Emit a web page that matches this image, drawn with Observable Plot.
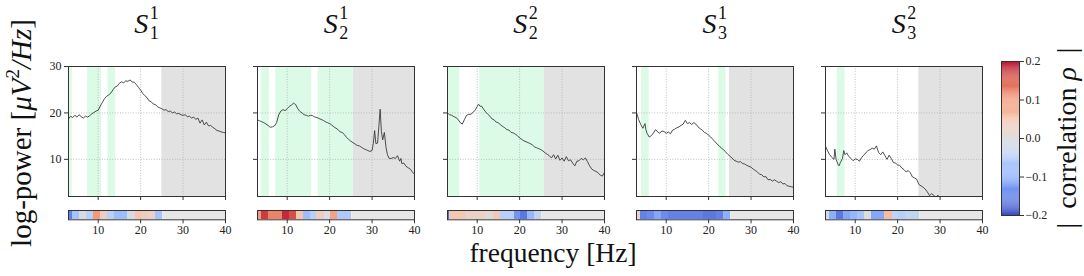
<!DOCTYPE html>
<html><head><meta charset="utf-8">
<script src="https://cdn.jsdelivr.net/npm/d3@7"></script>
<script src="https://cdn.jsdelivr.net/npm/@observablehq/plot@0.6"></script>
<style>
body{margin:0;background:#fff;}
#root{position:relative;width:1084px;height:276px;overflow:hidden;font-family:'Liberation Serif','DejaVu Serif',serif;background:#fff;}
#root svg{position:absolute;background:transparent;overflow:visible;}
#root text{font-family:'Liberation Serif','DejaVu Serif',serif;}
</style></head><body><div id="root"></div>
<script>
// ---------------- DATA ----------------
const titleSub = [1, 2, 2, 3, 3];
const titleSup = [1, 1, 2, 1, 2];

const freq1 = [3,3.5,4,4.5,5,5.5,6,6.5,7,7.5,8,8.5,9,9.5,10,10.5,11,11.5,12,12.5,13,13.5,14,14.5,15,15.5,16,16.5,17,17.5,18,18.5,19,19.5,20,20.5,21,21.5,22,22.5,23,23.5,24,24.5,25,25.5,26,26.5,27,27.5,28,28.5,29,29.5,30,30.5,31,31.5,32,32.5,33,33.5,34,34.5,35,35.5,36,36.5,37,37.5,38,38.5,39,39.5,40];
const power1 = [18.7,19.3,19.0,19.5,19.1,19.6,19.2,18.9,19.3,19.1,19.4,19.8,20.1,20.4,20.6,21.5,22.3,23.1,23.6,23.9,24.3,25.0,25.6,25.8,26.4,26.7,26.5,26.9,26.8,27.1,26.7,26.6,26.1,25.5,24.9,24.2,23.7,23.3,22.6,22.4,21.9,21.8,21.3,21.1,20.9,20.6,20.7,20.3,20.4,20.0,20.2,19.8,19.9,19.6,19.5,19.6,19.2,19.3,18.9,19.1,18.6,18.9,17.8,18.5,17.4,18.0,17.2,17.3,16.9,16.6,16.2,16.1,15.9,15.8,15.7];

const freq2 = [3,3.5,4,4.5,5,5.5,6,6.5,7,7.5,8,8.5,9,9.5,10,10.5,11,11.5,12,12.5,13,13.5,14,14.5,15,15.5,16,16.5,17,17.5,18,18.5,19,19.5,20,20.5,21,21.5,22,22.5,23,23.5,24,24.5,25,25.5,26,26.5,27,27.5,28,28.5,29,29.5,30,30.3,30.6,30.9,31.3,31.6,31.9,32.2,32.5,32.9,33.3,33.6,34,34.5,35,35.5,36,36.5,36.8,37,37.5,38,38.5,39,39.5,40];
const power2 = [18.5,18.3,18.1,17.9,17.6,17.3,16.9,17.0,17.2,17.9,19.6,20.4,20.7,20.5,20.9,21.4,21.7,22.1,21.8,20.9,20.3,20.0,19.6,19.5,19.3,19.5,19.4,19.1,19.0,18.8,18.6,18.4,18.1,17.9,17.7,17.4,17.0,16.7,16.4,15.9,15.8,15.3,14.7,14.3,13.9,13.6,13.3,13.0,12.9,12.6,12.3,12.1,11.9,11.7,11.9,13.5,16.2,13.4,13.5,17.0,20.8,16.0,14.2,15.8,12.5,11.1,10.2,10.2,10.4,10.2,10.8,9.6,10.2,9.1,9.2,8.5,8.2,7.9,7.3,6.8];

const freq3 = [3,3.5,4,4.5,5,5.5,6,6.5,7,7.5,8,8.5,9,9.5,10,10.3,10.7,11,11.5,12,12.5,13,13.5,14,14.5,15,15.5,16,16.5,17,17.5,18,18.5,19,19.5,20,20.5,21,21.5,22,22.5,23,23.5,24,24.5,25,25.5,26,26.5,27,27.5,28,28.5,29,29.5,30,30.5,31,31.5,32,32.5,33,33.5,34,34.5,35,35.5,36,36.5,37,37.5,38,38.5,39,39.5,40];
const power3 = [20.0,19.6,19.5,19.2,19.0,18.6,17.9,17.6,18.6,19.5,19.7,19.7,20.1,20.6,21.4,21.9,21.4,21.5,20.8,20.2,19.7,19.3,18.7,18.5,18.0,17.9,17.4,17.1,16.8,16.4,16.3,15.8,15.7,15.4,15.1,14.6,14.3,14.0,13.8,13.6,13.4,13.1,12.7,12.5,12.3,12.1,11.8,11.4,11.1,10.8,10.3,11.0,10.1,10.9,9.8,10.3,9.6,10.6,9.7,9.9,9.2,8.6,9.6,9.7,10.2,9.9,10.3,9.5,8.6,7.9,7.6,7.4,7.1,6.6,6.4,7.2];

const freq4 = [3,3.5,4,4.5,5,5.2,5.5,6,6.5,7,7.5,8,8.5,9,9.5,10,10.5,11,11.5,12,12.5,13,13.5,14,14.5,15,15.5,16,16.5,17,17.5,18,18.5,19,19.5,20,20.5,21,21.5,22,22.5,23,23.5,24,24.5,25,25.5,26,26.5,27,27.5,28,28.5,29,29.5,30,30.5,31,31.5,32,32.5,33,33.5,34,34.5,35,35.5,36,36.5,37,37.5,38,38.5,39,39.5,40];
const power4 = [20.1,18.6,17.5,16.7,17.7,16.4,15.6,14.8,15.1,15.7,16.4,15.9,15.6,16.1,16.0,15.6,15.9,15.5,16.3,16.5,16.8,17.0,17.3,17.6,18.4,17.7,17.9,17.5,17.9,17.6,17.0,16.6,16.3,15.8,15.6,15.2,14.8,14.3,13.8,13.3,12.9,12.4,12.1,11.6,11.1,10.7,10.3,9.8,9.6,9.4,9.5,9.1,9.0,8.7,8.5,8.3,7.9,7.6,7.3,6.8,6.7,6.2,6.3,5.6,5.7,5.3,5.6,5.3,5.0,5.2,4.7,4.8,4.3,4.2,4.1,4.0];

const freq5 = [3,3.5,4,4.5,5,5.2,5.5,6,6.2,6.5,7,7.3,7.6,8,8.5,9,9.5,10,10.5,11,11.5,12,12.5,13,13.5,14,14.5,15,15.5,16,16.5,17,17.5,18,18.5,19,19.5,20,20.5,21,21.5,22,22.5,23,23.5,24,24.5,25,25.5,26,26.5,27,27.5,28,28.5,29,29.5,30];
const power5 = [12.8,11.8,11.0,10.4,10.0,12.2,10.0,8.8,8.6,9.3,10.2,11.9,11.0,11.4,10.6,10.2,9.7,10.1,10.0,9.6,10.4,10.9,11.4,11.9,12.1,12.4,12.2,12.9,11.5,11.0,11.6,10.8,10.0,10.9,10.2,9.3,9.2,8.8,8.7,8.1,7.8,7.3,7.6,7.1,6.2,6.0,5.7,4.6,4.3,4.0,3.6,3.0,2.2,2.6,2.3,1.8,2.3,1.2];

const freqs = [freq1, freq2, freq3, freq4, freq5];
const powers = [power1, power2, power3, power4, power5];

// significant (green) frequency ranges
const greenStart = [[3.2, 7.5, 12.3], [3.9, 7.3, 17.3], [3.1, 10.6], [4.2, 22.4], [5.8]];
const greenEnd   = [[3.9, 10.8, 14.1], [5.8, 15.8, 25.6], [5.9, 25.8], [6.0, 24.1], [7.6]];
// excluded (gray) range start, up to 40 Hz
const grayStart = [25.0, 25.6, 25.8, 24.9, 25.0];
const freqMax = 40;

// correlation strips
const binEdges = [3, 3.5, 4, 5.6, 7.3, 8.9, 10.5, 12.1, 13.8, 15.4, 17, 18.7, 20.3, 21.9, 23.6, 25.2];
const rho1 = [-0.15, -0.15, -0.07, -0.01, -0.05, 0.10, 0.03, -0.05, -0.08, -0.08, -0.01, 0.05, 0.035, 0.025, -0.07];
const rho2 = [0.10, 0.10, 0.17, 0.12, 0.12, 0.18, 0.16, 0.05, -0.08, -0.05, 0.03, -0.005, 0.09, -0.06, -0.06];
const rho3 = [-0.17, 0.045, 0.045, 0.045, 0.025, 0.025, 0.025, 0.01, 0.04, -0.05, -0.05, -0.13, -0.16, -0.09, -0.04];
const rho4 = [0.015, 0.015, -0.15, -0.14, -0.11, -0.14, -0.15, -0.15, -0.15, -0.15, -0.15, -0.16, -0.16, -0.15, -0.10];
const rho5 = [0.0, -0.02, -0.10, -0.16, -0.11, -0.09, -0.07, 0.0, -0.11, -0.11, 0.06, -0.04, -0.05, -0.035, -0.035];
const rhos = [rho1, rho2, rho3, rho4, rho5];

const xTicks = [10, 20, 30, 40];
const yTicks = [10, 20, 30];
const cbTicks = [-0.2, -0.1, 0, 0.1, 0.2];
const xDomain = [3, 40];
const yDomain = [2, 30];
const rhoDomain = [-0.2, 0.2];

// coolwarm colormap stops
const cwDomain = [-0.2, -0.15, -0.1, -0.05, 0, 0.05, 0.1, 0.15, 0.2];
const cwRange = ["#3b4cc0", "#6282ea", "#8db0fe", "#b8d0f9", "#dddddd", "#f5c4ad", "#f49a7b", "#de604d", "#b40426"];

// ---------------- LAYOUT / STYLE ----------------
const FONT = "'Liberation Serif', 'DejaVu Serif', serif";
const GREEN = "#dcfbe6";
const GRAY = "#e2e2e2";
const panelLeft = [67.7, 257.3, 446.7, 636, 825.3];
const PW = 157, TOP = 66, PH = 130;
const STRIP_TOP = 210, SH = 9.3;
const ML = 34, MR = 4;

const root = document.getElementById("root");
const colorOpts = {type: "linear", domain: cwDomain, range: cwRange, clamp: true};

function place(svg, left, top) {
  svg.style.left = left + "px";
  svg.style.top = top + "px";
  root.appendChild(svg);
}

// overlay with titles and axis labels
const ov = d3.create("svg").attr("width", 1084).attr("height", 276).style("left", "0px").style("top", "0px")
  .style("font-family", FONT).attr("fill", "#111");
root.appendChild(ov.node());

for (let i = 0; i < 5; i++) {
  const cx = panelLeft[i] + PW / 2;
  const g = ov.append("g");
  g.append("text").attr("x", cx + 2).attr("y", 33).attr("text-anchor", "end")
    .attr("font-size", 28).attr("font-style", "italic").text("S");
  g.append("text").attr("x", cx + 3.5).attr("y", 19).attr("font-size", 18).text(titleSup[i]);
  g.append("text").attr("x", cx + 3.5).attr("y", 39).attr("font-size", 18).text(titleSub[i]);
}

// y label
{
  const t = ov.append("text").attr("transform", "translate(31,133) rotate(-90)")
    .attr("text-anchor", "middle").attr("font-size", 29);
  t.append("tspan").text("log-power [");
  t.append("tspan").attr("font-style", "italic").text("μV");
  t.append("tspan").attr("font-size", 19).attr("dy", -12).text("2");
  t.append("tspan").attr("font-style", "italic").attr("dy", 12).text("/Hz");
  t.append("tspan").text("]");
}
// x label
ov.append("text").attr("x", 553).attr("y", 262).attr("text-anchor", "middle")
  .attr("font-size", 27.5).text("frequency [Hz]");
// colorbar label
{
  const t = ov.append("text").attr("transform", "translate(1076,138) rotate(-90)")
    .attr("text-anchor", "middle").attr("font-size", 28).style("white-space", "pre");
  t.append("tspan").text("|  correlation ");
  t.append("tspan").attr("font-style", "italic").text("ρ");
  t.append("tspan").text("  |");
}

for (let i = 0; i < 5; i++) {
  const data = freqs[i].map((f, k) => ({f, p: powers[i][k]}));
  const bands = greenStart[i].map((s, k) => ({x1: s, x2: greenEnd[i][k]}));
  const grayBand = [{x1: grayStart[i], x2: freqMax}];
  const lp = Plot.plot({
    width: ML + PW + MR, height: TOP + PH + 8,
    marginLeft: ML, marginRight: MR, marginTop: TOP, marginBottom: 8,
    style: {background: "transparent", fontFamily: FONT, fontSize: "12px", color: "#222"},
    x: {domain: xDomain, label: null},
    y: {domain: yDomain, label: null},
    marks: [
      Plot.rect(bands, {x1: "x1", x2: "x2", fill: GREEN}),
      Plot.rect(grayBand, {x1: "x1", x2: "x2", fill: GRAY}),
      Plot.gridX([10, 20, 30], {stroke: "#b0b0b0", strokeOpacity: 1, strokeWidth: 0.8, strokeDasharray: "1,1.6"}),
      Plot.gridY([10, 20], {stroke: "#b0b0b0", strokeOpacity: 1, strokeWidth: 0.8, strokeDasharray: "1,1.6"}),
      Plot.line(data, {x: "f", y: "p", stroke: "#3a3a3a", strokeWidth: 0.9, clip: true}),
      Plot.frame({stroke: "#333", strokeWidth: 1}),
      Plot.axisX(xTicks, {tickSize: 4, tickFormat: () => "", stroke: "#333"}),
      Plot.axisY(yTicks, {tickSize: 4, tickPadding: 3, stroke: "#333",
        tickFormat: i === 0 ? (d) => String(d) : () => "", fontSize: 12})
    ]
  });
  place(lp, panelLeft[i] - ML, 0);

  const bins = rhos[i].map((r, k) => ({x1: binEdges[k], x2: binEdges[k + 1], rho: r}));
  const naBand = [{x1: binEdges[binEdges.length - 1], x2: freqMax}];
  const sp = Plot.plot({
    width: ML + PW + MR, height: 5 + SH + 26,
    marginLeft: ML, marginRight: MR, marginTop: 5, marginBottom: 26,
    style: {background: "transparent", fontFamily: FONT, fontSize: "12px", color: "#222"},
    x: {domain: xDomain, label: null},
    color: colorOpts,
    marks: [
      Plot.rect(naBand, {x1: "x1", x2: "x2", fill: "#e6e6e6"}),
      Plot.rect(bins, {x1: "x1", x2: "x2", fill: "rho", shapeRendering: "crispEdges"}),
      Plot.frame({stroke: "#333", strokeWidth: 1}),
      Plot.axisX(xTicks, {tickSize: 4, tickPadding: 2, stroke: "#333", fontSize: 12})
    ]
  });
  place(sp, panelLeft[i] - ML, STRIP_TOP - 5);
}

// colorbar
{
  const steps = d3.range(-0.2, 0.2, 0.0025);
  const cbTop = 61, cbH = 154, cbW = 18;
  const cb = Plot.plot({
    width: cbW + 40, height: cbTop + cbH + 10,
    marginLeft: 0, marginRight: 40, marginTop: cbTop, marginBottom: 10,
    style: {background: "transparent", fontFamily: FONT, fontSize: "12px", color: "#222"},
    y: {domain: rhoDomain, label: null},
    color: colorOpts,
    marks: [
      Plot.rect(steps, {y1: (d) => d, y2: (d) => d + 0.0026, fill: (d) => d + 0.00125}),
      Plot.frame({stroke: "#333", strokeWidth: 1}),
      Plot.axisY(cbTicks, {anchor: "right", tickSize: 4, tickPadding: 2, stroke: "#333",
        tickFormat: d3.format(".1f"), fontSize: 12})
    ]
  });
  place(cb, 1001, 0);
}
</script></body></html>
